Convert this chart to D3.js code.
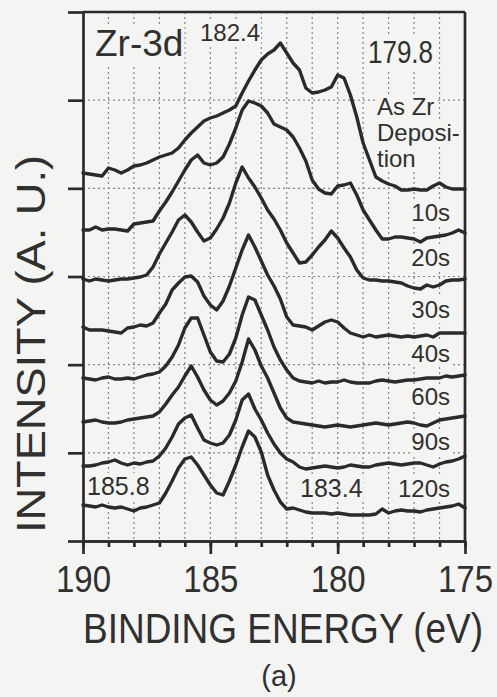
<!DOCTYPE html>
<html>
<head>
<meta charset="utf-8">
<script src="https://cdn.jsdelivr.net/npm/d3@7"></script>
<style>
  html, body { margin: 0; padding: 0; background: #f4f4f2; }
  svg { display: block; }
  text { font-family: "Liberation Sans", Arial, Helvetica, sans-serif; fill: #303030; }
</style>
</head>
<body>
<svg id="chart" width="497" height="697"></svg>
<script>
// Binding energy sampling grid (eV), 0.25 eV steps from 190 down to 175
const energies = d3.range(0, 61).map(i => 190 - i * 0.25);

// Zr-3d spectra (arbitrary units, stacked with their vertical offsets)
const asDeposited = [368, 367, 366, 365, 373, 371, 368, 371, 375, 376, 378,
  381, 384, 386, 388, 393, 401, 408, 414, 420, 423,
  425, 428, 431, 435, 448, 460, 471, 481, 487, 491,
  498, 488, 478, 471, 453, 448, 449, 451, 454, 466,
  463, 446, 424, 398, 381, 364, 360, 357, 355, 351,
  351, 352, 351, 351, 355, 358, 354, 352, 352, 352];
const sputter10s = [311, 311, 314, 311, 312, 312, 311, 310, 317, 318, 319,
  320, 330, 339, 349, 360, 371, 381, 386, 378, 376,
  378, 384, 397, 413, 431, 440, 438, 435, 428, 417,
  414, 411, 404, 393, 380, 361, 352, 348, 347, 355,
  356, 358, 346, 331, 321, 311, 302, 302, 304, 304,
  303, 302, 299, 303, 304, 305, 306, 308, 311, 308];
const sputter20s = [262, 260, 262, 261, 260, 261, 262, 262, 263, 264, 266,
  274, 287, 298, 309, 321, 326, 319, 309, 300, 303,
  312, 323, 338, 358, 374, 363, 354, 343, 331, 322,
  311, 298, 288, 278, 279, 286, 294, 301, 310, 303,
  293, 284, 271, 263, 261, 261, 260, 260, 259, 258,
  255, 253, 252, 256, 254, 256, 260, 261, 261, 262];
const sputter30s = [214, 211, 211, 211, 210, 209, 208, 213, 214, 216, 215,
  218, 228, 237, 251, 258, 264, 265, 259, 245, 236,
  231, 240, 255, 273, 291, 306, 294, 280, 266, 255,
  242, 224, 216, 215, 214, 211, 215, 219, 221, 219,
  213, 208, 206, 204, 206, 204, 205, 206, 205, 204,
  205, 204, 205, 206, 204, 208, 208, 208, 208, 208];
const sputter40s = [163, 162, 161, 163, 164, 162, 162, 163, 162, 164, 166,
  167, 169, 175, 184, 196, 213, 223, 223, 206, 189,
  180, 179, 187, 203, 226, 244, 241, 226, 211, 194,
  181, 171, 163, 160, 159, 158, 160, 158, 159, 159,
  161, 159, 158, 158, 158, 160, 161, 160, 159, 160,
  161, 161, 162, 163, 163, 163, 165, 164, 165, 166];
const sputter60s = [119, 120, 121, 119, 118, 118, 119, 121, 122, 123, 124,
  125, 129, 137, 146, 154, 165, 175, 164, 151, 141,
  136, 140, 148, 160, 179, 202, 191, 175, 163, 148,
  133, 123, 119, 118, 117, 116, 115, 114, 115, 116,
  115, 114, 115, 116, 117, 118, 117, 116, 117, 118,
  119, 118, 116, 115, 118, 121, 122, 123, 124, 125];
const sputter90s = [75, 75, 76, 78, 79, 81, 78, 76, 78, 77, 79,
  80, 85, 93, 104, 117, 123, 126, 113, 101, 98,
  96, 98, 106, 121, 141, 147, 132, 121, 108, 97,
  88, 82, 79, 74, 72, 73, 74, 75, 74, 73,
  74, 76, 75, 74, 74, 76, 77, 78, 77, 76,
  77, 78, 78, 76, 74, 77, 79, 80, 82, 85];
const sputter120s = [36, 35, 34, 36, 34, 33, 34, 32, 30, 33, 34,
  36, 38, 48, 60, 73, 82, 84, 76, 66, 56,
  48, 46, 60, 76, 94, 110, 104, 89, 66, 51,
  39, 32, 33, 31, 29, 28, 28, 28, 27, 28,
  27, 26, 26, 26, 26, 27, 32, 28, 30, 31,
  30, 30, 29, 31, 32, 33, 34, 35, 37, 33];

const seriesValues = [asDeposited, sputter10s, sputter20s, sputter30s,
  sputter40s, sputter60s, sputter90s, sputter120s];
const seriesLabels = ["10s", "20s", "30s", "40s", "60s", "90s", "120s"];
const firstLabelLines = ["As Zr", "Deposi-", "tion"];
const peakLabels = ["182.4", "179.8", "185.8", "183.4"];
const xTickLabels = [190, 185, 180, 175];
const intensityMax = 529;

// ---------- layout ----------
const W = 497, H = 697;
const plot = { left: 83, right: 465, top: 12, bottom: 541 };
const ink = "#2a2a2a";
const grid = "#858585";

const svg = d3.select("#chart");
svg.append("rect").attr("width", W).attr("height", H).attr("fill", "#f4f4f2");

const x = d3.scaleLinear().domain([190, 175]).range([plot.left, plot.right]);
const y = d3.scaleLinear().domain([0, intensityMax]).range([plot.bottom, plot.top]);
const yTicks = d3.range(0, 7).map(i => i * intensityMax / 6);
const minorTicks = d3.range(190, 174, -1);

// dotted grid
const gridG = svg.append("g").attr("stroke", grid).attr("stroke-width", 1.2)
  .attr("stroke-dasharray", "2,3").attr("fill", "none");
gridG.selectAll("line.v").data(minorTicks.filter(e => e < 190 && e > 175))
  .join("line").attr("class", "v")
  .attr("x1", d => x(d)).attr("x2", d => x(d))
  .attr("y1", plot.top).attr("y2", plot.bottom);
gridG.selectAll("line.h").data(yTicks.slice(1, -1))
  .join("line").attr("class", "h")
  .attr("x1", plot.left).attr("x2", plot.right)
  .attr("y1", d => y(d)).attr("y2", d => y(d));

// labels with a paper-coloured box behind them
const labelG = svg.append("g");
function boxedText(tx, ty, str, size, anchor, sx, sy) {
  const g = labelG.append("g")
    .attr("transform", `translate(${tx},${ty}) scale(${sx || 1},${sy || 1})`);
  const rect = g.append("rect").attr("fill", "#f4f4f2");
  const t = g.append("text").attr("font-size", size)
    .attr("text-anchor", anchor || "start").text(str);
  const b = t.node().getBBox();
  rect.attr("x", b.x - 1).attr("y", b.y + 1).attr("width", b.width + 2).attr("height", b.height - 1);
  return g;
}

boxedText(95, 56, "Zr-3d", 37, "start");
boxedText(200, 41, peakLabels[0], 24, "start");
boxedText(368, 63, peakLabels[1], 26, "start", 1, 1.2);
boxedText(87, 495, peakLabels[2], 25, "start");
boxedText(300, 497, peakLabels[3], 25, "start");

firstLabelLines.forEach((s, i) => boxedText(377, 115 + i * 25.8, s, 24, "start"));
const labelBaselines = [221, 266, 318, 361.5, 405, 450, 497];
seriesLabels.forEach((s, i) => boxedText(450, labelBaselines[i], s, 24, "end"));

// spectra
const line = d3.line()
  .x((d, i) => x(energies[i]))
  .y(d => y(d));
svg.append("g").selectAll("path").data(seriesValues).join("path")
  .attr("d", line)
  .attr("fill", "none").attr("stroke", ink).attr("stroke-width", 3.4)
  .attr("stroke-linejoin", "round").attr("stroke-linecap", "round");

// axes and frame
const axisStroke = 2.7;
const styleAxis = g => {
  g.selectAll("path.domain").attr("stroke", ink).attr("stroke-width", axisStroke);
  g.selectAll(".tick line").attr("stroke", ink).attr("stroke-width", axisStroke);
};

svg.append("g").attr("transform", `translate(0,${plot.bottom})`)
  .call(d3.axisBottom(x).tickValues(minorTicks).tickSize(6).tickSizeOuter(0).tickFormat(""))
  .call(styleAxis);

const major = svg.append("g").attr("transform", `translate(0,${plot.bottom})`)
  .call(d3.axisBottom(x).tickValues(xTickLabels).tickSize(13).tickSizeOuter(0)
    .tickFormat(d3.format("d")))
  .call(styleAxis);
major.selectAll(".tick text")
  .attr("y", 0).attr("dy", 0)
  .attr("transform", "translate(0,51) scale(1,1.14)")
  .attr("font-size", 33).attr("font-family", "Liberation Sans, Arial, sans-serif")
  .attr("fill", "#303030");

svg.append("g").attr("transform", `translate(${plot.left},0)`)
  .call(d3.axisLeft(y).tickValues(yTicks).tickSize(15).tickSizeOuter(0).tickFormat(""))
  .call(styleAxis);

svg.append("line").attr("x1", plot.left).attr("x2", plot.right)
  .attr("y1", plot.top).attr("y2", plot.top)
  .attr("stroke", ink).attr("stroke-width", axisStroke);
svg.append("line").attr("x1", plot.right).attr("x2", plot.right)
  .attr("y1", plot.top).attr("y2", plot.bottom)
  .attr("stroke", ink).attr("stroke-width", axisStroke);

// axis titles
svg.append("text")
  .attr("transform", "translate(283,643) scale(1,1.17)")
  .attr("text-anchor", "middle").attr("font-size", 37)
  .text("BINDING ENERGY (eV)");
svg.append("text")
  .attr("transform", "translate(279,686)")
  .attr("text-anchor", "middle").attr("font-size", 29)
  .text("(a)");
svg.append("text")
  .attr("transform", "translate(45,344) rotate(-90) scale(1.13,1)")
  .attr("text-anchor", "middle").attr("font-size", 40)
  .text("INTENSITY (A. U.)");
</script>
</body>
</html>
